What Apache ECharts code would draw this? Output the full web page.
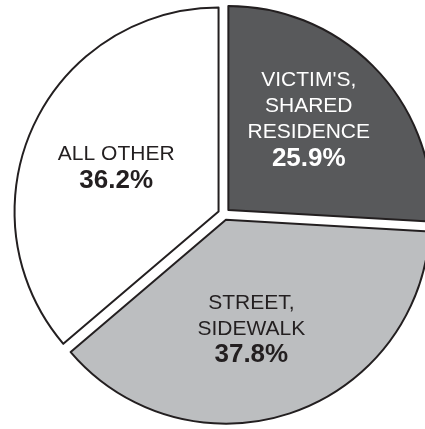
<!DOCTYPE html>
<html>
<head>
<meta charset="utf-8">
<script src="https://cdn.jsdelivr.net/npm/echarts@6/dist/echarts.min.js"></script>
<style>
html,body{margin:0;padding:0;background:#fff;}
#c{width:425px;height:429px;}
</style>
</head>
<body>
<div id="c"></div>
<script>
var categories = ["VICTIM'S,\nSHARED\nRESIDENCE", "STREET,\nSIDEWALK", "ALL OTHER"];
var values = [25.9, 37.8, 36.2];
var colors = ['#58595b', '#bcbec0', '#ffffff'];
var textColors = ['#ffffff', '#231f20', '#231f20'];
var labelShifts = [[4, -18], [-8, 10], [-7, 0]];

var chart = echarts.init(document.getElementById('c'), null, {renderer: 'canvas'});
var data = categories.map(function (c, i) {
  var style = {color: colors[i], borderColor: '#231f20', borderWidth: 2};
  return {
    name: c,
    value: values[i],
    selected: true,
    itemStyle: style,
    select: {itemStyle: style, label: {color: textColors[i]}},
    label: {color: textColors[i]}
  };
});
chart.setOption({
  animation: false,
  series: [{
    type: 'pie',
    center: [224, 214],
    radius: [0, 204],
    startAngle: 90,
    clockwise: true,
    selectedMode: 'multiple',
    selectedOffset: 6,
    avoidLabelOverlap: false,
    emphasis: {disabled: true, scale: false},
    labelLayout: function (p) {
      return {dx: labelShifts[p.dataIndex][0], dy: labelShifts[p.dataIndex][1]};
    },
    label: {
      show: true,
      position: 'inside',
      fontFamily: 'Liberation Sans, Arial, sans-serif',
      formatter: function (p) {
        var lines = p.name.split('\n').map(function (l) { return '{n|' + l + '}'; });
        return lines.join('\n') + '\n{p|' + p.value.toFixed(1) + '%}';
      },
      rich: {
        n: {fontSize: 21, lineHeight: 26, fontFamily: 'Liberation Sans, Arial, sans-serif'},
        p: {fontSize: 26, lineHeight: 27, fontWeight: 'bold', fontFamily: 'Liberation Sans, Arial, sans-serif'}
      }
    },
    labelLine: {show: false},
    data: data
  }]
});
</script>
</body>
</html>
